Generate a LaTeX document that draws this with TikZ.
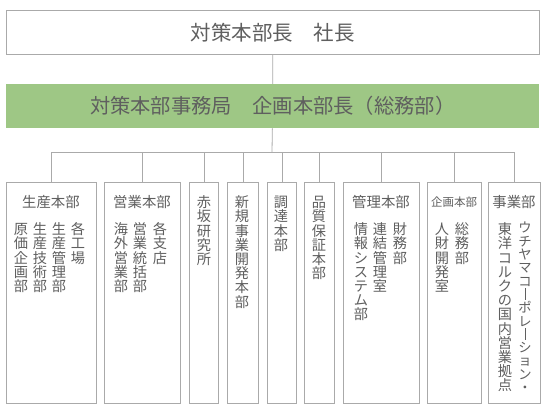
\documentclass[tikz,border=0pt]{standalone}
\usepackage{fontspec}
\setmainfont{Noto Sans CJK JP}
\definecolor{LineGray}{RGB}{170,170,170}
\definecolor{TextGray}{RGB}{95,95,95}
\definecolor{OfficeGreen}{RGB}{158,199,133}

\makeatletter
\newcommand\tatecol[1]{\edef\tc@list{#1}\vbox{\offinterlineskip\expandafter\tc@loop\tc@list\relax}}
\def\tc@loop#1{\ifx\relax#1\else\hbox to 1em{\hss\vrule height .88em depth .12em width 0pt#1\hss}\expandafter\tc@loop\fi}
\protected\def\chobar{\rule[-.02em]{.06em}{.84em}}
\makeatother

\begin{document}
\begin{tikzpicture}[x=1pt,y=-1pt,
  unit/.style={draw=LineGray,line width=.8pt,anchor=north west,inner sep=0pt,minimum height=221pt},
  head/.style={text=TextGray,font=\fontsize{14.4}{14.4}\selectfont,inner sep=0pt},
  tate/.style={text=TextGray,font=\fontsize{14.2}{14.2}\selectfont,anchor=north,inner sep=0pt}]

\useasboundingbox[fill=white] (0,0) rectangle (544,411);

\node[draw=LineGray,line width=.8pt,anchor=north west,minimum width=533pt,minimum height=44pt] (chief) at (6,10) {};
\node[text=TextGray,font=\fontsize{20.5}{20.5}\selectfont] at (chief) {対策本部長　社長};

\node[fill=OfficeGreen,anchor=north west,minimum width=533pt,minimum height=44pt] (office) at (6,84) {};
\node[text=TextGray,font=\fontsize{20.3}{20.3}\selectfont] at (office) {対策本部事務局　企画本部長（総務部）};

% units
\node[unit,minimum width=90pt] (b1) at (6,182) {};
\node[unit,minimum width=76pt] (b2) at (104,182) {};
\node[unit,minimum width=29pt] (b3) at (189,182) {};
\node[unit,minimum width=31pt] (b4) at (227,182) {};
\node[unit,minimum width=29pt] (b5) at (267,182) {};
\node[unit,minimum width=30pt] (b6) at (304,182) {};
\node[unit,minimum width=76pt] (b7) at (343,182) {};
\node[unit,minimum width=54pt] (b8) at (427,182) {};
\node[unit,minimum width=52pt] (b9) at (488,182) {};

\coordinate (bus) at (272,152);
\draw[LineGray,line width=.8pt] (chief) -- (office);
\draw[LineGray,line width=.8pt] (office) -- (bus);
\foreach \b in {b1,b2,b3,b4,b5,b6,b7,b8,b9}
\draw[LineGray,line width=.8pt] (\b.north) |- (bus);

% headings
\node[head] (h1) at (51,202) {生産本部};
\node[head] (h2) at (142,202) {営業本部};
\node[head] (h7) at (381,202) {管理本部};
\node[head,font=\fontsize{11.5}{11.5}\selectfont] (h8) at (454,202) {企画本部};
\node[head] (h9) at (514,202) {事業部};

% columns
\foreach \x/\y/\t in {21/222/原価企画部,40/222/生産技術部,59/222/生産管理部,78/222/各工場,
  121/222/海外営業部,140/222/営業統括部,160/222/各支店,
  204/195/赤坂研究所,242/195/新規事業開発本部,281/195/調達本部,319/195/品質保証本部,
  361/222/情報システム部,380/222/連結管理室,400/222/財務部,
  442/222/人財開発室,462/222/総務部,
  505/222/東洋コルクの国内営業拠点}
\node[tate] (c\x) at (\x,\y) {\tatecol{\t}};
\node[tate,font=\fontsize{13.3}{13.3}\selectfont] (c525) at (525,221) {\tatecol{ウチヤマコ\chobar ポレ\chobar ション・}};

\end{tikzpicture}
\end{document}
